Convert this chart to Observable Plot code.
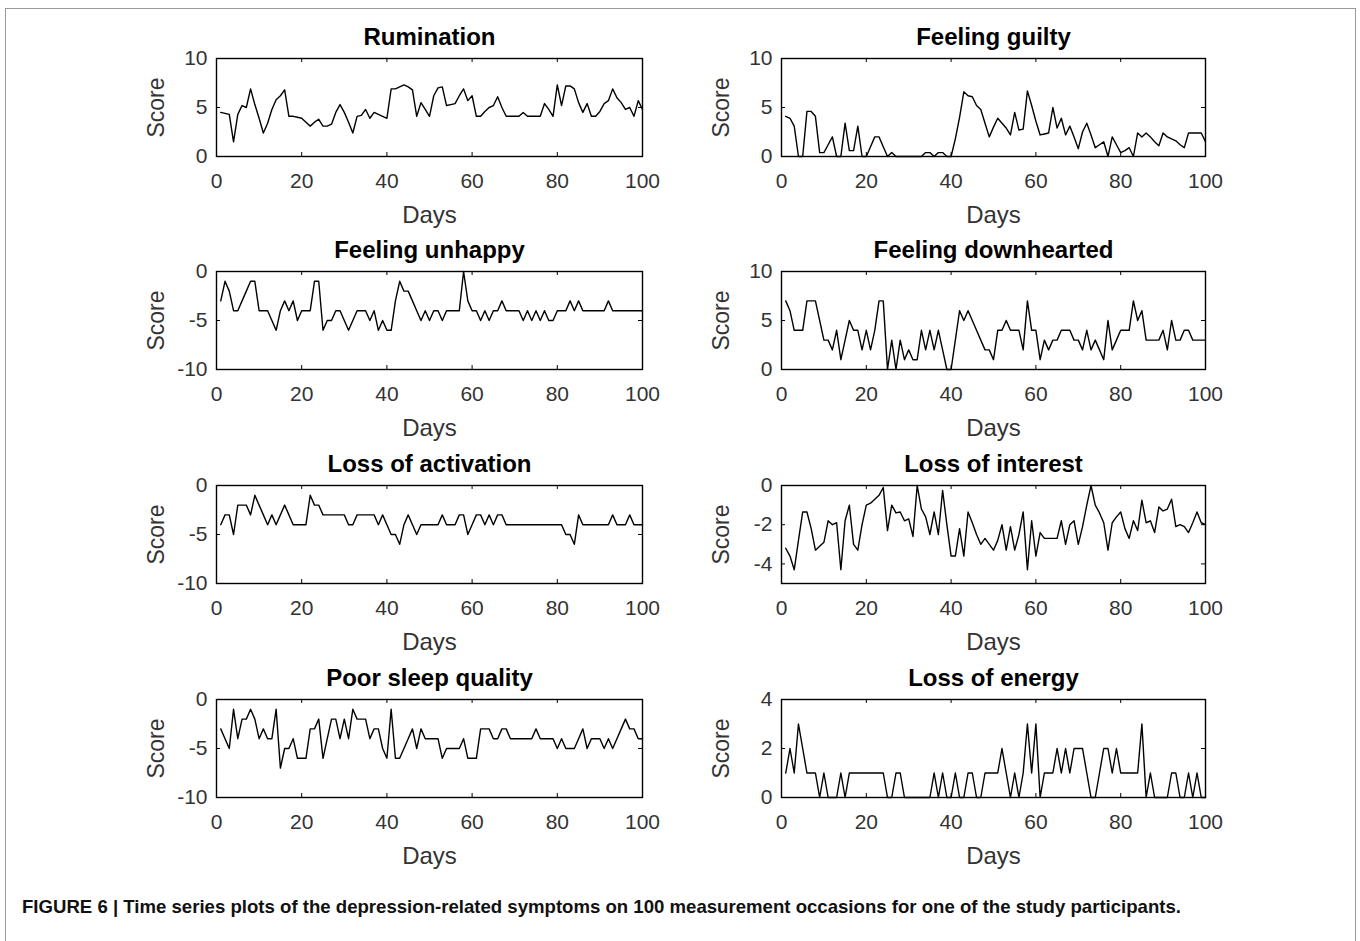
<!DOCTYPE html>
<html><head><meta charset="utf-8">
<script src="https://cdn.jsdelivr.net/npm/d3@7"></script>
<script src="https://cdn.jsdelivr.net/npm/@observablehq/plot@0.6"></script>
<style>
body{margin:0;background:#fff;font-family:"Liberation Sans",Arial,sans-serif;}
#fig{position:relative;width:1360px;height:941px;overflow:hidden;background:#fff;}
#border{position:absolute;left:5px;top:8px;width:1349px;height:980px;border:1px solid #9a9a9a;}
.panel{position:absolute;}
#caption{position:absolute;left:22px;top:896px;font-weight:bold;font-size:18.6px;color:#111;white-space:nowrap;}
</style></head><body>
<div id="fig"><div id="border"></div>
<div id="caption">FIGURE 6 | Time series plots of the depression-related symptoms on 100 measurement occasions for one of the study participants.</div>
</div>
<script>
const xTicks = [0, 20, 40, 60, 80, 100];
const rumination = [4.5,4.4,4.3,1.5,4.3,5.2,5.0,6.9,5.3,3.9, 2.4,3.4,4.8,5.8,6.2,6.8,4.1,4.1,4.0,3.9, 3.5,3.1,3.5,3.8,3.1,3.1,3.3,4.5,5.3,4.5, 3.5,2.4,4.1,4.2,4.8,3.9,4.5,4.3,4.1,3.9, 6.9,6.9,7.1,7.3,7.1,6.8,4.1,5.5,4.8,4.1, 6.2,7.0,7.1,5.2,5.3,5.4,6.2,6.9,5.7,6.2, 4.1,4.1,4.6,5.0,5.2,6.1,5.0,4.1,4.1,4.1, 4.1,4.5,4.1,4.1,4.1,4.1,5.4,4.8,4.1,7.3, 5.2,7.2,7.2,6.9,5.5,4.5,5.4,4.1,4.1,4.6, 5.4,5.7,6.9,6.0,5.5,4.8,5.0,4.1,5.7,4.8];
const guilty = [4.1,3.9,3.1,0,0,4.6,4.6,4.1,0.4,0.4, 1.2,2.0,0,0,3.4,0.6,0.6,3.1,0,0, 1.0,2.0,2.0,1.0,0,0.4,0,0,0,0, 0,0,0,0.4,0.4,0,0.4,0.4,0,0, 1.8,4.0,6.6,6.2,6.1,5.2,4.8,3.4,2.0,3.0, 3.9,3.4,2.9,2.2,4.5,2.7,2.8,6.7,5.2,3.6, 2.2,2.3,2.4,5.0,2.9,3.9,2.2,3.1,2.0,0.8, 2.5,3.4,2.2,0.9,1.2,1.5,0,2.0,1.2,0.4, 0.6,0.9,0,2.4,2.0,2.4,2.0,1.5,1.1,2.4, 2.0,1.8,1.6,1.2,0.9,2.4,2.4,2.4,2.4,1.5];
const unhappy = [-3,-1,-2,-4,-4,-3,-2,-1,-1,-4, -4,-4,-5,-6,-4,-3,-4,-3,-5,-4, -4,-4,-1,-1,-6,-5,-5,-4,-4,-5, -6,-5,-4,-4,-4,-5,-4,-6,-5,-6, -6,-3,-1,-2,-2,-3,-4,-5,-4,-5, -4,-4,-5,-4,-4,-4,-4,0,-3,-4, -4,-5,-4,-5,-4,-4,-3,-4,-4,-4, -4,-5,-4,-5,-4,-5,-4,-5,-5,-4, -4,-4,-3,-4,-3,-4,-4,-4,-4,-4, -4,-3,-4,-4,-4,-4,-4,-4,-4,-4];
const downhearted = [7,6,4,4,4,7,7,7,5,3, 3,2,4,1,3,5,4,4,2,4, 2,4,7,7,0,3,0,3,1,2, 1,1,4,2,4,2,4,2,0,0, 3,6,5,6,5,4,3,2,2,1, 4,4,5,4,4,4,2,7,4,4, 1,3,2,3,3,4,4,4,3,3, 2,4,2,3,2,1,5,2,3,4, 4,4,7,5,6,3,3,3,3,4, 2,5,3,3,4,4,3,3,3,3];
const activation = [-4,-3,-3,-5,-2,-2,-2,-3,-1,-2, -3,-4,-3,-4,-3,-2,-3,-4,-4,-4, -4,-1,-2,-2,-3,-3,-3,-3,-3,-3, -4,-4,-3,-3,-3,-3,-3,-4,-3,-4, -5,-5,-6,-4,-3,-4,-5,-4,-4,-4, -4,-4,-3,-4,-4,-4,-3,-3,-5,-4, -3,-3,-4,-3,-4,-3,-3,-4,-4,-4, -4,-4,-4,-4,-4,-4,-4,-4,-4,-4, -4,-5,-5,-6,-3,-4,-4,-4,-4,-4, -4,-4,-3,-4,-4,-4,-3,-4,-4,-4];
const interest = [-3.2,-3.6,-4.3,-2.8,-1.35,-1.35,-2.2,-3.3,-3.1,-2.9, -1.8,-2.0,-1.9,-4.3,-1.8,-1.0,-3.0,-3.3,-2.0,-1.0, -0.9,-0.7,-0.5,-0.1,-2.3,-1.0,-1.4,-1.35,-1.8,-1.7, -2.6,0,-1.2,-1.6,-2.5,-1.35,-2.5,-0.25,-2.0,-3.6, -3.6,-2.2,-3.6,-1.35,-1.9,-2.5,-3.0,-2.7,-3.0,-3.3, -2.8,-2.0,-3.3,-2.1,-3.3,-2.5,-1.35,-4.3,-1.8,-3.6, -2.4,-2.7,-2.7,-2.7,-2.7,-1.8,-3.0,-2.0,-1.8,-3.0, -2.1,-1.0,0,-1.0,-1.4,-1.9,-3.3,-1.9,-1.6,-1.35, -2.2,-2.7,-1.8,-2.3,-0.75,-1.9,-1.8,-2.4,-1.1,-1.3, -1.2,-0.7,-2.1,-2.0,-2.1,-2.4,-1.9,-1.35,-1.9,-2.0];
const sleep = [-3,-4,-5,-1,-4,-2,-2,-1,-2,-4, -3,-4,-4,-1,-7,-5,-5,-4,-6,-6, -6,-3,-3,-2,-6,-4,-2,-2,-4,-2, -4,-1,-2,-2,-2,-4,-3,-3,-5,-6, -1,-6,-6,-5,-4,-3,-5,-3,-4,-4, -4,-4,-6,-5,-5,-5,-5,-4,-6,-6, -6,-3,-3,-3,-4,-4,-3,-3,-4,-4, -4,-4,-4,-4,-3,-4,-4,-4,-4,-5, -4,-5,-5,-5,-4,-3,-5,-4,-4,-4, -5,-4,-5,-4,-3,-2,-3,-3,-4,-4];
const energy = [1,2,1,3,2,1,1,1,0,1, 0,0,0,1,0,1,1,1,1,1, 1,1,1,1,0,0,1,1,0,0, 0,0,0,0,0,1,0,1,0,0, 1,0,0,1,1,0,0,1,1,1, 1,2,1,0,1,0,1,3,1,3, 0,1,1,1,2,1,2,1,2,2, 2,1,0,0,1,2,2,1,2,1, 1,1,1,1,3,0,1,0,0,0, 0,1,1,0,0,1,0,1,0,0];
const days = Array.from({length: 100}, (_, i) => i + 1);

const titles = ["Rumination", "Feeling guilty", "Feeling unhappy", "Feeling downhearted", "Loss of activation", "Loss of interest", "Poor sleep quality", "Loss of energy"];
const seriesList = [rumination, guilty, unhappy, downhearted, activation, interest, sleep, energy];
const yDomains = [[0,10],[0,10],[-10,0],[0,10],[-10,0],[-5,0],[-10,0],[0,4]];
const yTickSets = [[0,5,10],[0,5,10],[-10,-5,0],[0,5,10],[-10,-5,0],[-4,-2,0],[-10,-5,0],[0,2,4]];

const plotLeft = [216, 781];
const plotW = [426, 424];
const plotTop = [58, 271, 485, 699];
const plotH = 98;
const mL = 100, mR = 30, mT = 40, mB = 80;
const fig = document.getElementById("fig");

titles.forEach((title, k) => {
  const col = k % 2, row = Math.floor(k / 2);
  const w = plotW[col];
  const chart = Plot.plot({
    width: mL + w + mR,
    height: mT + plotH + mB,
    marginLeft: mL, marginRight: mR, marginTop: mT, marginBottom: mB,
    x: {domain: [0, 100]},
    y: {domain: yDomains[k]},
    style: {fontFamily: "'Liberation Sans', Arial, sans-serif", fontSize: "21px", color: "#333", background: "transparent", overflow: "visible"},
    marks: [
      Plot.axisX(xTicks, {tickSize: 0, tickPadding: 17, label: null, fontSize: 21, tickFormat: d => String(d)}),
      Plot.axisY(yTickSets[k], {tickSize: 0, tickPadding: 9, label: null, fontSize: 21, tickFormat: d => String(d)}),
      Plot.tickX(xTicks, {x: d => d, insetTop: plotH - 4, stroke: "#000"}),
      Plot.tickX(xTicks, {x: d => d, insetBottom: plotH - 4, stroke: "#000"}),
      Plot.tickY(yTickSets[k], {y: d => d, insetRight: w - 4, stroke: "#000"}),
      Plot.tickY(yTickSets[k], {y: d => d, insetLeft: w - 4, stroke: "#000"}),
      Plot.lineY(seriesList[k], {x: days, y: d => d, stroke: "#000", strokeWidth: 1.4}),
      Plot.frame({stroke: "#000", strokeWidth: 1.4}),
      Plot.text([title], {frameAnchor: "top", lineAnchor: "middle", textAnchor: "middle", dy: -21, fontWeight: "bold", fontSize: 24, fill: "#000"}),
      Plot.text(["Score"], {frameAnchor: "left", lineAnchor: "middle", textAnchor: "middle", rotate: -90, dx: -60, fontSize: 23, fill: "#333"}),
      Plot.text(["Days"], {frameAnchor: "bottom", lineAnchor: "middle", textAnchor: "middle", dy: 59, fontSize: 24, fill: "#333"})
    ]
  });
  const div = document.createElement("div");
  div.className = "panel";
  div.style.left = (plotLeft[col] - mL) + "px";
  div.style.top = (plotTop[row] - mT) + "px";
  div.appendChild(chart);
  fig.appendChild(div);
});
</script>
</body></html>
